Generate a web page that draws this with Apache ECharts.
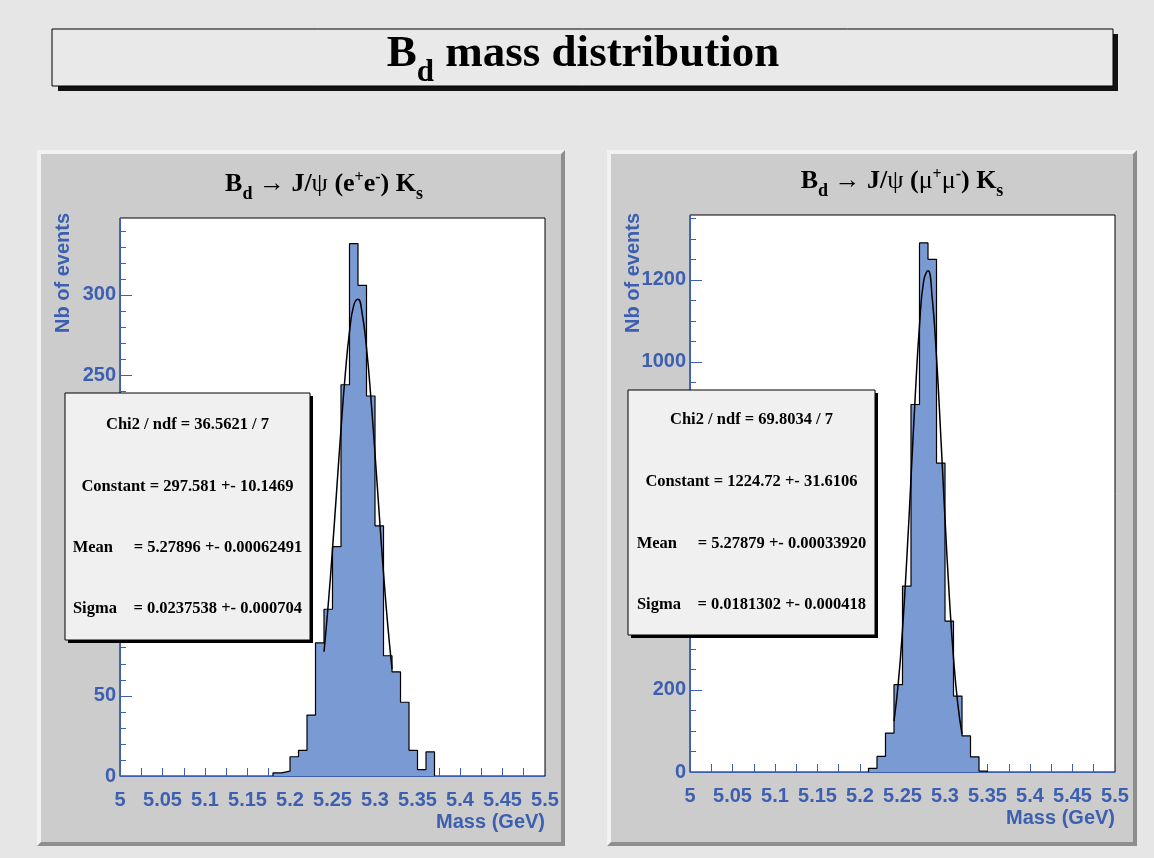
<!DOCTYPE html>
<html>
<head>
<meta charset="utf-8">
<title>Bd mass distribution</title>
<script src="https://cdn.jsdelivr.net/npm/echarts@6/dist/echarts.min.js"></script>
<style>
  html, body { margin: 0; padding: 0; background: #e6e6e6; }
  #chart { width: 1154px; height: 858px; }
</style>
</head>
<body>
<div id="chart"></div>
<script>
// lower edge of each 0.01 GeV bin, and the entries in it
const binWidth = 0.01
const eeMass = [5.18, 5.19, 5.20, 5.21, 5.22, 5.23, 5.24, 5.25, 5.26, 5.27, 5.28, 5.29, 5.30, 5.31, 5.32, 5.33, 5.34, 5.35, 5.36]
const eeCounts = [2, 3, 12, 16, 38, 83, 104, 143, 244, 332, 306, 237, 156, 75, 65, 46, 16, 4, 15]
const mmMass = [5.21, 5.22, 5.23, 5.24, 5.25, 5.26, 5.27, 5.28, 5.29, 5.30, 5.31, 5.32, 5.33, 5.34]
const mmCounts = [9, 38, 95, 213, 453, 896, 1290, 1250, 753, 368, 185, 88, 37, 2]

// gaussian fit curves
const fitMass = [5.240, 5.245, 5.250, 5.255, 5.260, 5.265, 5.270, 5.275, 5.280, 5.285, 5.290, 5.295, 5.300, 5.305, 5.310, 5.315, 5.320]
const eeFit = [77.5, 107.1, 141.5, 178.9, 216.4, 250.4, 277.1, 293.5, 297.3, 288.1, 267.1, 236.9, 201.0, 163.2, 126.7, 94.1, 66.9]
const mmFit = [124.2, 215.7, 347.1, 517.8, 715.9, 917.1, 1088.9, 1198.3, 1222.0, 1154.9, 1011.6, 821.2, 617.8, 430.7, 278.3, 166.7, 92.5]

// axis ticks
const massLabels = [5, 5.05, 5.1, 5.15, 5.2, 5.25, 5.3, 5.35, 5.4, 5.45, 5.5]
const massTicks = [5, 5.025, 5.05, 5.075, 5.1, 5.125, 5.15, 5.175, 5.2, 5.225, 5.25, 5.275, 5.3, 5.325, 5.35, 5.375, 5.4, 5.425, 5.45, 5.475, 5.5]
const eeYLabels = [0, 50, 100, 150, 200, 250, 300]
const eeYMinor = [0, 10, 20, 30, 40, 50, 60, 70, 80, 90, 100, 110, 120, 130, 140, 150, 160, 170, 180, 190, 200, 210, 220, 230, 240, 250, 260, 270, 280, 290, 300, 310, 320, 330, 340]
const mmYLabels = [0, 200, 400, 600, 800, 1000, 1200]
const mmYMinor = [0, 50, 100, 150, 200, 250, 300, 350, 400, 450, 500, 550, 600, 650, 700, 750, 800, 850, 900, 950, 1000, 1050, 1100, 1150, 1200, 1250, 1300, 1350]

const eeStats = ['Chi2 / ndf = 36.5621 / 7', 'Constant = 297.581 +- 10.1469', 'Mean     = 5.27896 +- 0.00062491', 'Sigma    = 0.0237538 +- 0.000704']
const mmStats = ['Chi2 / ndf = 69.8034 / 7', 'Constant = 1224.72 +- 31.6106', 'Mean     = 5.27879 +- 0.00033920', 'Sigma    = 0.0181302 +- 0.000418']

const blue = '#3d5fb0'
const histFill = '#7a9ad3'
const serif = '"Liberation Serif", "DejaVu Serif", serif'
const sans = '"Liberation Sans", Arial, sans-serif'

function histData(mass, counts) {
  const last = mass[mass.length - 1] + binWidth
  const pts = [[mass[0], 0]]
  mass.forEach((m, i) => pts.push([m, counts[i]]))
  pts.push([last, 0])
  return pts
}

function zip(xs, ys) {
  return xs.map((x, i) => [x, ys[i]])
}

// text runs with sub/superscripts, laid out left to right
const measureCtx = document.createElement('canvas').getContext('2d')
function fontOf(p) {
  return (p.normal ? '' : 'bold ') + p.s + 'px ' + serif
}
function textRun(cx, baseY, parts) {
  let total = 0
  parts.forEach(p => {
    measureCtx.font = fontOf(p)
    p.w = measureCtx.measureText(p.t).width
    total += p.w
  })
  let x = cx - total / 2
  return parts.map(p => {
    const el = {
      type: 'text',
      x: x,
      y: baseY + (p.dy || 0) - 0.3375 * p.s,
      z: 50,
      style: { text: p.t, font: fontOf(p), fill: '#000', align: 'left', verticalAlign: 'middle' }
    }
    x += p.w
    return el
  })
}

function pad(x, y, w, h) {
  const b = 4
  return [
    { type: 'rect', z: -10, shape: { x: x, y: y, width: w, height: h }, style: { fill: '#8e8e8e' } },
    { type: 'polygon', z: -9, shape: { points: [[x, y], [x + w, y], [x + w - b, y + b], [x + b, y + b], [x + b, y + h - b], [x, y + h]] }, style: { fill: '#f2f2f2' } },
    { type: 'rect', z: -8, shape: { x: x + b, y: y + b, width: w - 2 * b, height: h - 2 * b }, style: { fill: '#cccccc' } }
  ]
}

function statsBox(x, y, w, h, lines, rows) {
  const els = [
    { type: 'rect', z: 40, shape: { x: x + 3, y: y + 3, width: w, height: h }, style: { fill: '#000' } },
    { type: 'rect', z: 41, shape: { x: x, y: y, width: w, height: h }, style: { fill: '#f0f0f0', stroke: '#000', lineWidth: 1 } }
  ]
  lines.forEach((t, i) => {
    els.push({
      type: 'text', z: 42, x: x + w / 2, y: rows[i],
      style: { text: t, font: 'bold 16.5px ' + serif, fill: '#000', align: 'center', verticalAlign: 'middle' }
    })
  })
  return els
}

function axisName(x, y, text, rotate) {
  return {
    type: 'text', z: 45, x: x, y: y, rotation: rotate ? Math.PI / 2 : 0,
    style: { text: text, font: 'bold 20px ' + sans, fill: blue, align: 'right', verticalAlign: 'middle' }
  }
}

function xAxisOf(grid) {
  return {
    type: 'value', gridIndex: grid, min: 5, max: 5.5,
    axisLine: { show: true, lineStyle: { color: blue, width: 1 } },
    axisTick: { show: true, inside: true, length: 8, customValues: massTicks, lineStyle: { color: blue } },
    axisLabel: {
      customValues: massLabels, margin: 14, color: blue, fontSize: 20, fontWeight: 'bold', fontFamily: sans,
      formatter: v => String(Math.round(v * 1000) / 1000)
    },
    splitLine: { show: false }
  }
}

function yAxesOf(grid, max, labels, minor) {
  return [{
    type: 'value', gridIndex: grid, min: 0, max: max, position: 'left',
    axisLine: { show: true, lineStyle: { color: blue, width: 1 } },
    axisTick: { show: true, inside: true, length: 12, customValues: labels, lineStyle: { color: blue } },
    axisLabel: {
      customValues: labels, margin: 4, color: blue, fontSize: 20, fontWeight: 'bold', fontFamily: sans,
      formatter: v => String(v)
    },
    splitLine: { show: false }
  }, {
    type: 'value', gridIndex: grid, min: 0, max: max, position: 'left',
    axisLine: { show: false },
    axisTick: { show: true, inside: true, length: 6, customValues: minor, lineStyle: { color: blue } },
    axisLabel: { show: false },
    splitLine: { show: false }
  }]
}

const graphics = [].concat(
  pad(37, 150, 528, 696),
  pad(607, 150, 530, 696),
  [
    { type: 'rect', z: 10, shape: { x: 58, y: 34, width: 1060, height: 57 }, style: { fill: '#111' } },
    { type: 'rect', z: 11, shape: { x: 52, y: 29, width: 1061, height: 57 }, style: { fill: '#e9e9e9', stroke: '#000', lineWidth: 1 } }
  ],
  textRun(583, 70, [{ t: 'B', s: 45 }, { t: 'd', s: 31, dy: 13 }, { t: ' mass distribution', s: 45 }]),
  textRun(324, 193, [
    { t: 'B', s: 26 }, { t: 'd', s: 18, dy: 7 }, { t: ' \u2192 ', s: 26, normal: true }, { t: 'J/', s: 26 },
    { t: '\u03c8', s: 26, normal: true }, { t: ' (e', s: 26 }, { t: '+', s: 16, dy: -10 }, { t: 'e', s: 26 },
    { t: '-', s: 16, dy: -10 }, { t: ') K', s: 26 }, { t: 's', s: 18, dy: 7 }
  ]),
  textRun(902, 190, [
    { t: 'B', s: 26 }, { t: 'd', s: 18, dy: 7 }, { t: ' \u2192 ', s: 26, normal: true }, { t: 'J/', s: 26 },
    { t: '\u03c8', s: 26, normal: true }, { t: ' (', s: 26 }, { t: '\u03bc', s: 26, normal: true }, { t: '+', s: 16, dy: -10 },
    { t: '\u03bc', s: 26, normal: true }, { t: '-', s: 16, dy: -10 }, { t: ') K', s: 26 }, { t: 's', s: 18, dy: 7 }
  ]),
  statsBox(65, 393, 245, 247, eeStats, [425, 487, 548, 609]),
  statsBox(628, 390, 247, 245, mmStats, [420, 482, 544, 605]),
  [
    axisName(63, 213, 'Nb of events', true),
    axisName(633, 213, 'Nb of events', true),
    axisName(545, 822, 'Mass (GeV)', false),
    axisName(1115, 818, 'Mass (GeV)', false)
  ]
)

const chart = echarts.init(document.getElementById('chart'), null, { renderer: 'canvas' })
chart.setOption({
  animation: false,
  backgroundColor: '#e6e6e6',
  grid: [
    { left: 120, top: 218, width: 425, height: 558, show: true, backgroundColor: '#fff', borderColor: '#000', borderWidth: 1 },
    { left: 690, top: 215, width: 425, height: 557, show: true, backgroundColor: '#fff', borderColor: '#000', borderWidth: 1 }
  ],
  xAxis: [xAxisOf(0), xAxisOf(1)],
  yAxis: [].concat(yAxesOf(0, 348, eeYLabels, eeYMinor), yAxesOf(1, 1358, mmYLabels, mmYMinor)),
  graphic: graphics,
  series: [
    {
      type: 'line', xAxisIndex: 0, yAxisIndex: 0, step: 'end', symbol: 'none',
      data: histData(eeMass, eeCounts),
      lineStyle: { color: '#000', width: 1.2 },
      areaStyle: { color: histFill, opacity: 1 }
    },
    {
      type: 'line', xAxisIndex: 0, yAxisIndex: 0, smooth: true, symbol: 'none',
      data: zip(fitMass, eeFit),
      lineStyle: { color: '#000', width: 1.5 }
    },
    {
      type: 'line', xAxisIndex: 1, yAxisIndex: 2, step: 'end', symbol: 'none',
      data: histData(mmMass, mmCounts),
      lineStyle: { color: '#000', width: 1.2 },
      areaStyle: { color: histFill, opacity: 1 }
    },
    {
      type: 'line', xAxisIndex: 1, yAxisIndex: 2, smooth: true, symbol: 'none',
      data: zip(fitMass, mmFit),
      lineStyle: { color: '#000', width: 1.5 }
    }
  ]
})
</script>
</body>
</html>
